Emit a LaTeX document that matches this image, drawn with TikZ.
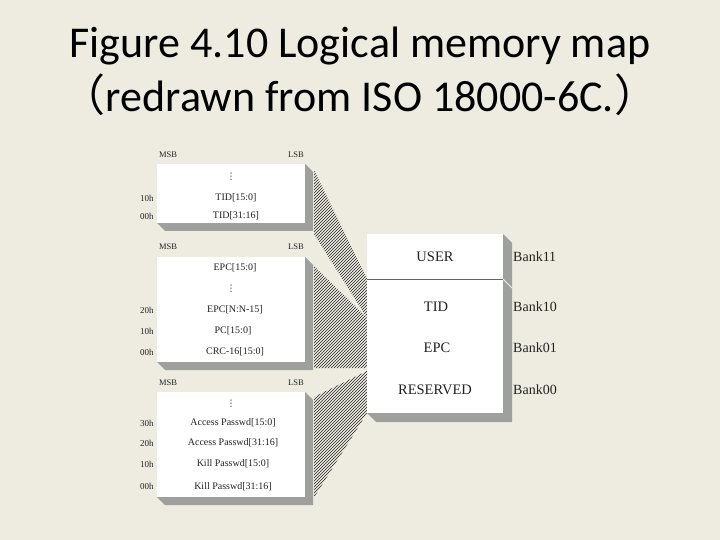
\documentclass[tikz,border=0pt]{standalone}
\usepackage{fontspec}
\setmainfont{Liberation Serif}
\newfontfamily\titlefont{Carlito}
\newfontfamily\cjk{Noto Sans CJK SC}
\newfontfamily\symfont{DejaVu Sans}
\usetikzlibrary{patterns}
\definecolor{bg}{HTML}{EEECE1}
\definecolor{shade}{RGB}{158,160,158}
\definecolor{ink}{HTML}{222222}
\tikzset{
  hatch/.style={pattern=north east lines, pattern color=ink},
  shd/.style={fill=shade},
  wbox/.style={fill=white},
  cell/.style={font=\fontsize{10}{12}\selectfont, text=ink, inner sep=0pt},
  edge/.style={font=\fontsize{8.5}{10}\selectfont, text=ink, inner sep=0pt},
  addr/.style={font=\fontsize{9}{10}\selectfont, text=ink, anchor=west, inner sep=0pt},
  big/.style={font=\fontsize{14.5}{16}\selectfont, text=ink, inner sep=0pt},
  bank/.style={font=\fontsize{14}{16}\selectfont, text=ink, inner sep=0pt, anchor=west},
  ttl/.style={font=\titlefont\fontsize{44}{50}\selectfont, text=black, anchor=base, inner sep=0pt},
  dots/.style={font=\symfont\fontsize{9}{10}\selectfont, text=ink, inner sep=0pt}
}
\begin{document}
\begin{tikzpicture}[x=1pt,y=-1pt]
\fill[bg] (0,0) rectangle (720,540);
\useasboundingbox (0,0) rectangle (720,540);

% title
\node[ttl] (t1) at (360,58) {Figure 4.10 Logical memory map};
\node[ttl] (t2) at (360,112) {{\cjk （}redrawn from ISO 18000-6C.{\cjk ）}};

% hatched mapping regions
\fill[hatch] (314,170) -- (367,279) -- (367,318) -- (314,234) -- cycle;
\fill[hatch] (314,266) -- (367,318) -- (367,368) -- (314,368) -- cycle;
\fill[hatch] (314,397) -- (367,371) -- (367,413) -- (315,496) -- (314,496) -- cycle;

% address labels (behind boxes)
\node[addr] (a1) at (140,198) {10h};
\node[addr] (a2) at (140,216) {00h};
\node[addr] (a3) at (140,310) {20h};
\node[addr] (a4) at (140,331) {10h};
\node[addr] (a5) at (140,352) {00h};
\node[addr] (a6) at (140,423) {30h};
\node[addr] (a7) at (140,443) {20h};
\node[addr] (a8) at (140,464) {10h};
\node[addr] (a9) at (140,486) {00h};

% TID bank box
\fill[shd] (305,164) -- (313,172) -- (313,231) -- (165,231) -- (157,223) -- (305,223) -- cycle;
\fill[wbox] (157,164) rectangle (305,223);
% EPC bank box
\fill[shd] (305,257) -- (313,265) -- (313,370) -- (165,370) -- (157,362) -- (305,362) -- cycle;
\fill[wbox] (157,257) rectangle (305,362);
% Reserved bank box
\fill[shd] (305,392) -- (313,400) -- (313,505) -- (165,505) -- (157,497) -- (305,497) -- cycle;
\fill[wbox] (157,392) rectangle (305,497);
% right memory map box
\fill[shd] (503,234) -- (512,243) -- (512,422) -- (376,422) -- (367,413) -- (503,413) -- cycle;
\fill[wbox] (367,234) rectangle (503,413);
\draw[ink!70, line width=0.8pt] (367,279) -- (503,279);
\draw[white!80!shade, line width=0.8pt] (503,279) -- (512,288);

% MSB / LSB
\node[edge] (m1) at (168,155) {MSB};
\node[edge] (l1) at (296,155) {LSB};
\node[edge] (m2) at (168,247) {MSB};
\node[edge] (l2) at (296,247) {LSB};
\node[edge] (m3) at (168,383) {MSB};
\node[edge] (l3) at (296,383) {LSB};

% TID contents
\node[dots] (d1) at (231,177) {⋮};
\node[cell] (c1) at (236,198) {TID[15:0]};
\node[cell] (c2) at (236,216) {TID[31:16]};
% EPC contents
\node[cell] (c3) at (235,268) {EPC[15:0]};
\node[dots] (d2) at (231,289) {⋮};
\node[cell] (c4) at (235,310) {EPC[N:N-15]};
\node[cell] (c5) at (233,331) {PC[15:0]};
\node[cell] (c6) at (235,352) {CRC-16[15:0]};
% Reserved contents
\node[dots] (d3) at (231,404) {⋮};
\node[cell] (c7) at (233,423) {Access Passwd[15:0]};
\node[cell] (c8) at (233,443) {Access Passwd[31:16]};
\node[cell] (c9) at (233,464) {Kill Passwd[15:0]};
\node[cell] (c10) at (233,487) {Kill Passwd[31:16]};

% right box labels
\node[big] (u) at (435,257) {USER};
\node[big] (ti) at (436,307) {TID};
\node[big] (ep) at (437,348) {EPC};
\node[big] (rs) at (435,390) {RESERVED};
\node[bank] (b11) at (513,257) {Bank11};
\node[bank] (b10) at (513,307) {Bank10};
\node[bank] (b01) at (513,348) {Bank01};
\node[bank] (b00) at (513,390) {Bank00};
\end{tikzpicture}
\end{document}
